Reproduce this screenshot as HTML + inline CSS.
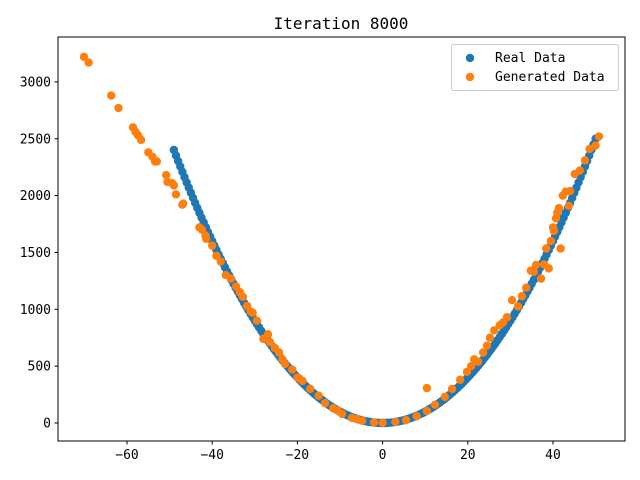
<!DOCTYPE html>
<html><head><meta charset="utf-8"><style>
body{margin:0;background:#fff}
svg{display:block;font-family:"DejaVu Sans Mono","Liberation Mono",monospace}
</style></head><body>
<svg id="chart" width="640" height="480" xmlns="http://www.w3.org/2000/svg">
<rect width="640" height="480" fill="#fff"/>
<text x="341" y="29" text-anchor="middle" font-size="16">Iteration 8000</text>
<g id="marks"></g>
<g id="axes"></g>
<rect x="58" y="37" width="567" height="404" fill="none" stroke="#000" stroke-width="1"/>
<g>
<rect x="451.5" y="44.5" width="167" height="46" rx="2" fill="#fff" fill-opacity="0.8" stroke="#ccc"/>
<circle cx="470" cy="58" r="4.2" fill="#1f77b4"/>
<text x="495" y="62" font-size="13">Real Data</text>
<circle cx="470" cy="77" r="4.2" fill="#ff7f0e"/>
<text x="495" y="81" font-size="13">Generated Data</text>
</g>
</svg>
<script>
const realX=[-49,-48,-47,-46,-45,-44,-43,-42,-41,-40,-39,-38,-37,-36,-35,-34,-33,-32,-31,-30,-29,-28,-27,-26,-25,-24,-23,-22,-21,-20,-19,-18,-17,-16,-15,-14,-13,-12,-11,-10,-9,-8,-7,-6,-5,-4,-3,-2,-1,0,1,2,3,4,5,6,7,8,9,10,11,12,13,14,15,16,17,18,19,20,21,22,23,24,25,26,27,28,29,30,31,32,33,34,35,36,37,38,39,40,41,42,43,44,45,46,47,48,49,50];
const realY=[2401,2304,2209,2116,2025,1936,1849,1764,1681,1600,1521,1444,1369,1296,1225,1156,1089,1024,961,900,841,784,729,676,625,576,529,484,441,400,361,324,289,256,225,196,169,144,121,100,81,64,49,36,25,16,9,4,1,0,1,4,9,16,25,36,49,64,81,100,121,144,169,196,225,256,289,324,361,400,441,484,529,576,625,676,729,784,841,900,961,1024,1089,1156,1225,1296,1369,1444,1521,1600,1681,1764,1849,1936,2025,2116,2209,2304,2401,2500];
const realXb=[-48.5,-47.5,-46.5,-45.5,-44.5,-43.5,-42.5,-41.5,-40.5,-39.5,-38.5,-37.5,-36.5,-35.5,-34.5,-33.5,-32.5,-31.5,-30.5,-29.5,-28.5,-27.5,-26.5,-25.5,-24.5,-23.5,-22.5,-21.5,-20.5,-19.5,-18.5,-17.5,-16.5,-15.5,-14.5,-13.5,-12.5,-11.5,-10.5,-9.5,-8.5,-7.5,-6.5,-5.5,-4.5,-3.5,-2.5,-1.5,-0.5,0.5,1.5,2.5,3.5,4.5,5.5,6.5,7.5,8.5,9.5,10.5,11.5,12.5,13.5,14.5,15.5,16.5,17.5,18.5,19.5,20.5,21.5,22.5,23.5,24.5,25.5,26.5,27.5,28.5,29.5,30.5,31.5,32.5,33.5,34.5,35.5,36.5,37.5,38.5,39.5,40.5,41.5,42.5,43.5,44.5,45.5,46.5,47.5,48.5,49.5];
const realYb=[2352,2256,2162,2070,1980,1892,1806,1722,1640,1560,1482,1406,1332,1260,1190,1122,1056,992,930,870,812,756,702,650,600,552,506,462,420,380,342,306,272,240,210,182,156,132,110,90,72,56,42,30,20,12,6,2,0,0,2,6,12,20,30,42,56,72,90,110,132,156,182,210,240,272,306,342,380,420,462,506,552,600,650,702,756,812,870,930,992,1056,1122,1190,1260,1332,1406,1482,1560,1640,1722,1806,1892,1980,2070,2162,2256,2352,2450];
const genX=[-70.1,-69,-63.7,-62,-58.6,-58,-57.4,-56.7,-55,-54,-53.4,-53,-50.8,-50.5,-49.4,-49,-48.5,-47,-46.8,-43,-42.4,-41.6,-41.4,-40,-39,-38,-36.8,-35.6,-34.4,-32.8,-31.8,-31,-30.5,-29.5,-26.9,-26.4,-25.3,-24.3,-22.9,-21.2,-20,-18.8,-17,-15,-13.5,-11.6,-9.5,-7.2,-4.8,-2,0,3,5.5,8,10.4,10.4,12.3,14.6,16.3,18.2,19.8,20.8,22.4,23.6,24.5,25.2,26.2,28.3,29.2,30.4,31.8,32.7,33.7,34.8,36,37.2,37.9,38.4,39,39.5,40.2,40.7,41.4,41.8,42.3,43,43.7,45.1,46.3,47.5,48.6,50,50.8,-33.5,-28,-23.5,-19.5,-10.5,-6,21.5,27.5,35.5,40,41,44];
const genY=[3220,3170,2880,2770,2600,2560,2530,2490,2380,2340,2300,2300,2180,2120,2110,2090,2010,1920,1930,1720,1700,1650,1620,1560,1470,1420,1300,1270,1200,1110,1030,980,970,900,780,710,660,620,520,470,400,370,300,240,175,130,80,45,20,5,2,10,25,60,307,105,160,230,300,380,450,500,540,620,680,750,815,885,930,1080,1025,1115,1190,1340,1390,1270,1395,1535,1360,1600,1690,1800,1890,1535,2000,2035,1910,2190,2220,2310,2410,2440,2520,1150,740,560,390,110,35,560,860,1330,1720,1850,2040];
const xTicks=[-60,-40,-20,0,20,40];
const yTicks=[0,500,1000,1500,2000,2500,3000];
const sx=v=>382.6+v*4.26;
const sy=v=>423-v*0.1137;
const NS="http://www.w3.org/2000/svg";
const marks=document.getElementById('marks');
function drawReal(xs,ys){xs.forEach((x,i)=>{const c=document.createElementNS(NS,'circle');
c.setAttribute('cx',sx(x));c.setAttribute('cy',sy(ys[i]));c.setAttribute('r',4.2);c.setAttribute('fill','#1f77b4');


marks.appendChild(c);});}
drawReal(realX,realY);
drawReal(realXb,realYb);
genX.forEach((x,i)=>{const c=document.createElementNS(NS,'circle');
c.setAttribute('cx',sx(x));c.setAttribute('cy',sy(genY[i]));c.setAttribute('r',4.2);c.setAttribute('fill','#ff7f0e');


marks.appendChild(c);});
const axes=document.getElementById('axes');
xTicks.forEach(t=>{const x=sx(t);
const l=document.createElementNS(NS,'line');l.setAttribute('x1',x);l.setAttribute('x2',x);l.setAttribute('y1',441);l.setAttribute('y2',444.5);l.setAttribute('stroke','#000');


axes.appendChild(l);
const tx=document.createElementNS(NS,'text');tx.setAttribute('x',x);tx.setAttribute('y',459);tx.setAttribute('text-anchor','middle');tx.setAttribute('font-size','13');tx.textContent=String(t).replace('-','\u2212');


axes.appendChild(tx);});
yTicks.forEach(t=>{const y=sy(t);
const l=document.createElementNS(NS,'line');l.setAttribute('x1',54.5);l.setAttribute('x2',58);l.setAttribute('y1',y);l.setAttribute('y2',y);l.setAttribute('stroke','#000');


axes.appendChild(l);
const tx=document.createElementNS(NS,'text');tx.setAttribute('x',51);tx.setAttribute('y',y+4.5);tx.setAttribute('text-anchor','end');tx.setAttribute('font-size','13');tx.textContent=t;


axes.appendChild(tx);});
</script>
</body></html>
